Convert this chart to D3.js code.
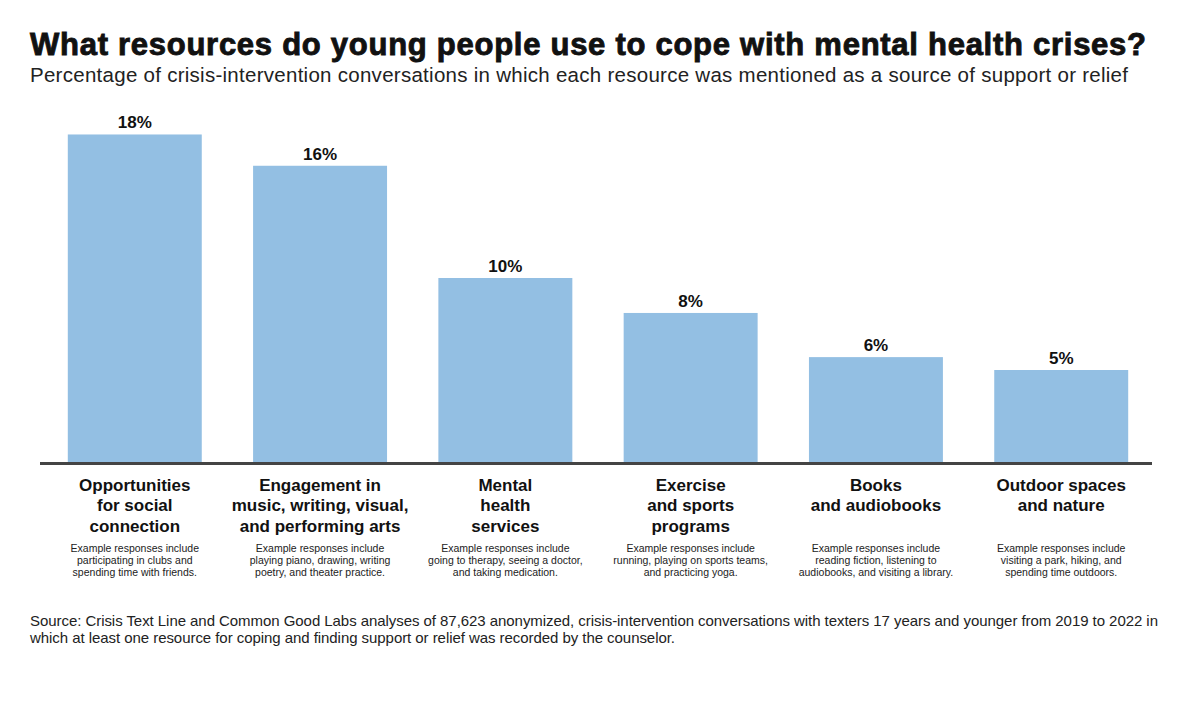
<!DOCTYPE html>
<html>
<head>
<meta charset="utf-8">
<script src="https://cdn.jsdelivr.net/npm/d3@7"></script>
<style>
  html, body { margin: 0; padding: 0; background: #fff; }
  svg { display: block; font-family: "Liberation Sans", Arial, Helvetica, sans-serif; }
</style>
</head>
<body>
<svg id="chart" width="1200" height="725"></svg>
<script>
const titleText = "What resources do young people use to cope with mental health crises?";
const subtitleText = "Percentage of crisis-intervention conversations in which each resource was mentioned as a source of support or relief";
const categories = [
  ["Opportunities", "for social", "connection"],
  ["Engagement in", "music, writing, visual,", "and performing arts"],
  ["Mental", "health", "services"],
  ["Exercise", "and sports", "programs"],
  ["Books", "and audiobooks"],
  ["Outdoor spaces", "and nature"]
];
const values = [17.8, 16.1, 10.0, 8.1, 5.7, 5.0];
const valueLabels = ["18%", "16%", "10%", "8%", "6%", "5%"];
const examples = [
  ["Example responses include", "participating in clubs and", "spending time with friends."],
  ["Example responses include", "playing piano, drawing, writing", "poetry, and theater practice."],
  ["Example responses include", "going to therapy, seeing a doctor,", "and taking medication."],
  ["Example responses include", "running, playing on sports teams,", "and practicing yoga."],
  ["Example responses include", "reading fiction, listening to", "audiobooks, and visiting a library."],
  ["Example responses include", "visiting a park, hiking, and", "spending time outdoors."]
];
const sourceLines = [
  "Source: Crisis Text Line and Common Good Labs analyses of 87,623 anonymized, crisis-intervention conversations with texters 17 years and younger from 2019 to 2022 in",
  "which at least one resource for coping and finding support or relief was recorded by the counselor."
];

const svg = d3.select("#chart");
const idx = d3.range(values.length);

const x = d3.scaleBand().domain(idx).range([40, 1156]).paddingInner(0.277).paddingOuter(0.15);
const y = d3.scaleLinear().domain([0, 20]).range([462, 94]);

function fitText(sel, target) {
  const node = sel.node();
  const w = node.getComputedTextLength();
  const n = sel.text().length;
  const ls = (target - w) / (n - 1);
  sel.attr("letter-spacing", ls);
  return ls;
}

// Title
const title = svg.append("text").attr("x", 30).attr("y", 55)
  .attr("font-size", 31).attr("font-weight", 700).attr("fill", "#111")
  .attr("stroke", "#111").attr("stroke-width", 0.9)
  .text(titleText);
fitText(title, 1116);

const sub = svg.append("text").attr("x", 30).attr("y", 82)
  .attr("font-size", 20.5).attr("fill", "#222")
  .text(subtitleText);
fitText(sub, 1098);

// Bars
svg.append("g").selectAll("rect").data(idx).join("rect")
  .attr("x", i => x(i))
  .attr("width", x.bandwidth())
  .attr("y", i => y(values[i]))
  .attr("height", i => y(0) - y(values[i]))
  .attr("fill", "#93bfe3");

// Value labels
svg.append("g").selectAll("text").data(idx).join("text")
  .attr("x", i => x(i) + x.bandwidth() / 2)
  .attr("y", i => y(values[i]) - 6)
  .attr("text-anchor", "middle")
  .attr("font-size", 17).attr("font-weight", 700).attr("fill", "#111")
  .text(i => valueLabels[i]);

// Axis baseline
const axis = svg.append("g").attr("transform", "translate(0,463.5)")
  .call(d3.axisBottom(x).tickSize(0).tickFormat(""));
axis.select(".domain").attr("stroke", "#444").attr("stroke-width", 3)
  .attr("d", "M40,0H1152");

// Category labels
const catG = svg.append("g").selectAll("text").data(idx).join("text")
  .attr("x", i => x(i) + x.bandwidth() / 2)
  .attr("y", 490.5)
  .attr("text-anchor", "middle")
  .attr("font-size", 17).attr("font-weight", 700).attr("fill", "#111");
catG.each(function(i) {
  const t = d3.select(this);
  categories[i].forEach((line, k) => {
    t.append("tspan").attr("x", x(i) + x.bandwidth() / 2)
      .attr("dy", k === 0 ? 0 : 20.5).text(line);
  });
});

// Example text
const exG = svg.append("g").selectAll("text").data(idx).join("text")
  .attr("x", i => x(i) + x.bandwidth() / 2)
  .attr("y", 552)
  .attr("text-anchor", "middle")
  .attr("font-size", 10.5).attr("fill", "#222");
exG.each(function(i) {
  const t = d3.select(this);
  examples[i].forEach((line, k) => {
    t.append("tspan").attr("x", x(i) + x.bandwidth() / 2)
      .attr("dy", k === 0 ? 0 : 12).text(line);
  });
});

// Source
const s1 = svg.append("text").attr("x", 30).attr("y", 626)
  .attr("font-size", 15).attr("fill", "#222").text(sourceLines[0]);
const ls = fitText(s1, 1128);
svg.append("text").attr("x", 30).attr("y", 643)
  .attr("font-size", 15).attr("fill", "#222").attr("letter-spacing", ls)
  .text(sourceLines[1]);
</script>
</body>
</html>
